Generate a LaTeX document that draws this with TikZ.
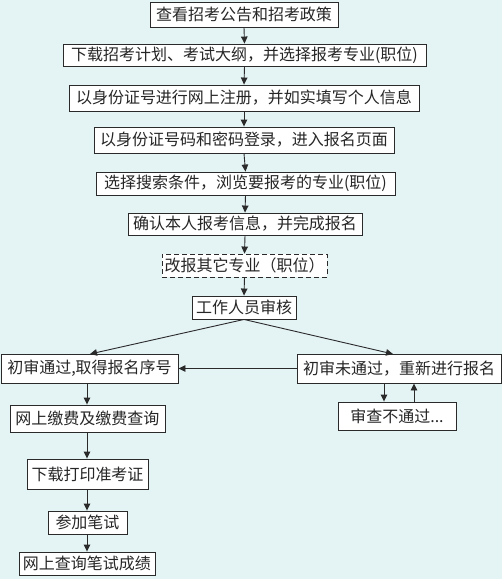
\documentclass[tikz,border=0pt]{standalone}
\usepackage{fontspec}
\setmainfont{Noto Sans CJK SC}
\usetikzlibrary{arrows.meta}
\definecolor{bgc}{HTML}{E4F3F4}
\definecolor{linec}{HTML}{2A2A2A}
\tikzset{
  box/.style={draw=linec, line width=0.9pt, fill=white, inner sep=0pt, anchor=center,
    font=\fontsize{16pt}{17pt}\selectfont, text=black!85},
  arr/.style={draw=linec, line width=0.9pt, -{Triangle[length=7pt,width=6.5pt]}},
  dashbox/.style={dash pattern=on 5pt off 3pt},
}
\newcommand{\mybox}[6][]{\node[box,#1, minimum width=#4pt, minimum height=#5pt] (#2) at #3 {#6};}
\begin{document}
\begin{tikzpicture}[x=1pt,y=-1pt]
\fill[bgc] (0,0) rectangle (502,579);
\useasboundingbox (0,0) rectangle (502,579);
\mybox{b1}{(244,14.5)}{188}{25}{查看招考公告和招考政策}
\mybox{b2}{(244.5,55)}{363}{22}{下载招考计划、考试大纲，并选择报考专业(职位)}
\mybox{b3}{(244,98)}{350}{26}{以身份证号进行网上注册，并如实填写个人信息}
\mybox{b4}{(244,140)}{300}{26}{以身份证号码和密码登录，进入报名页面}
\mybox{b5}{(245.5,183.5)}{299}{23}{选择搜索条件，浏览要报考的专业(职位)}
\mybox{b6}{(245,224)}{234}{22}{确认本人报考信息，并完成报名}
\mybox[dashbox]{b7}{(244.5,265.5)}{165}{23}{改报其它专业（职位）}
\mybox{b8}{(244,307.5)}{104}{23}{工作人员审核}
\mybox{b9}{(89.5,368.5)}{177}{29}{初审通过,取得报名序号}
\mybox{b10}{(399,368.5)}{204}{29}{初审未通过，重新进行报名}
\mybox{b11}{(397,416)}{118}{28}{审查不通过...}
\mybox{b12}{(87.5,418.5)}{155}{27}{网上缴费及缴费查询}
\mybox{b13}{(87.5,474)}{121}{30}{下载打印准考证}
\mybox{b14}{(87.5,522.5)}{79}{23}{参加笔试}
\mybox{b15}{(87,563.5)}{136}{23}{网上查询笔试成绩}
\foreach \a/\b in {b1/b2,b2/b3,b3/b4,b4/b5,b5/b6,b6/b7,b7/b8}
  \draw[arr] (\a.south) -- (\b.north);
\coordinate (t9) at (90,354);
\coordinate (t10) at (393,354);
\draw[arr] (b8.south) -- (t9);
\draw[arr] (b8.south) -- (t10);
\draw[arr] (b10.west) -- (b9.east);
\draw[arr] (b10.south -| 384,0) -- (b11.north -| 384,0);
\draw[arr] (b11.north -| 414,0) -- (b10.south -| 414,0);
\draw[arr] (b9.south -| 87,0) -- (b12.north -| 87,0);
\draw[arr] (b12.south -| 87,0) -- (b13.north -| 87,0);
\draw[arr] (b13.south -| 87,0) -- (b14.north -| 87,0);
\draw[arr] (b14.south -| 87,0) -- (b15.north -| 87,0);
\end{tikzpicture}
\end{document}
